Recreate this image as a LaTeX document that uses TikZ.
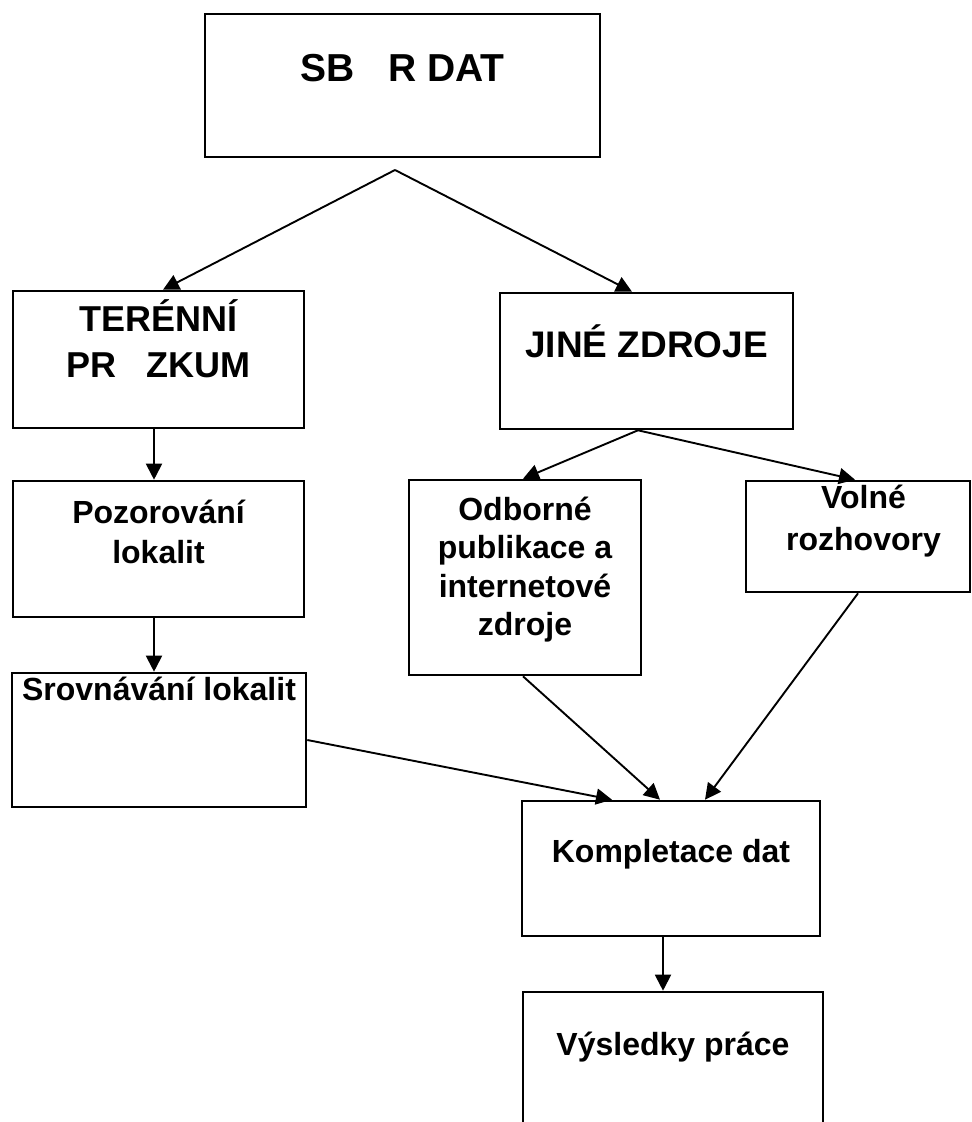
\documentclass[tikz,border=0pt]{standalone}
\usepackage{fontspec}
\setmainfont{Liberation Sans}
\usetikzlibrary{arrows.meta}

\newcommand{\boxtext}[4]{\parbox[c][#2][t]{#1}{\centering\rule{0pt}{#3}#4}}

\tikzset{
  box/.style={draw, line width=1.3pt, inner sep=0pt},
  arr/.style={-{Triangle[length=8pt,width=8pt]}, line width=0.95pt}
}

\begin{document}
\begin{tikzpicture}[x=0.5pt,y=-0.5pt]
\path[use as bounding box, clip] (0,0) rectangle (972,1122);
\node[box, font=\fontsize{19.5}{24}\selectfont\bfseries] (sber) at (402.5,85.5)
  {\boxtext{197.5pt}{71.5pt}{34pt}{SB\hspace{17pt}R DAT}};
\node[box, font=\fontsize{18}{23}\selectfont\bfseries] (teren) at (158.5,359.5)
  {\boxtext{145.5pt}{68.5pt}{20.35pt}{TERÉNNÍ\\PR\hspace{15pt}ZKUM}};
\node[box, font=\fontsize{18.5}{23}\selectfont\bfseries] (jine) at (646.5,361)
  {\boxtext{146.5pt}{68pt}{32pt}{JINÉ ZDROJE}};
\node[box, font=\fontsize{16}{20}\selectfont\bfseries] (pozor) at (158.5,549)
  {\boxtext{145.5pt}{68pt}{21pt}{Pozorování\\lokalit}};
\node[box, font=\fontsize{16}{20}\selectfont\bfseries] (srovn) at (159,740)
  {\boxtext{147pt}{67pt}{13.5pt}{Srovnávání lokalit}};
\node[box, font=\fontsize{16}{19.25}\selectfont\bfseries] (odbor) at (525,577.5)
  {\boxtext{116pt}{97.5pt}{20pt}{Odborné\\publikace a\\internetové\\zdroje}};
\node[box, font=\fontsize{16}{21}\selectfont\bfseries] (volne) at (858,536.5)
  {\boxtext{112pt}{55.5pt}{13.5pt}{\hspace*{5.5pt}Volné\\\hspace*{5.5pt}rozhovory}};
\node[box, font=\fontsize{16}{20}\selectfont\bfseries] (kompl) at (671,868.5)
  {\boxtext{149pt}{67.5pt}{30.5pt}{Kompletace dat}};
\node[box, font=\fontsize{16}{20}\selectfont\bfseries] (vysl) at (673,1059.5)
  {\boxtext{150pt}{67.5pt}{31.5pt}{Výsledky práce}};
\coordinate (split1) at (395,170);
\coordinate (split2) at ([xshift=-4.25pt]jine.south);
\draw[arr] (split1) -- ([xshift=2.25pt]teren.north);
\draw[arr] (split1) -- ([xshift=-7.25pt]jine.north);
\draw[arr] ([xshift=-2.25pt]teren.south) -- ([xshift=-2.25pt]pozor.north);
\draw[arr] ([xshift=-2.25pt]pozor.south) -- ([xshift=-2.5pt]srovn.north);
\draw[arr] (split2) -- ([xshift=-1pt]odbor.north);
\draw[arr] (split2) -- ([xshift=-1.5pt]volne.north);
\draw[arr] (srovn.east) -- ([xshift=-29.5pt]kompl.north);
\draw[arr] ([xshift=-1pt]odbor.south) -- ([xshift=-5.5pt]kompl.north);
\draw[arr] (volne.south) -- ([xshift=17pt]kompl.north);
\draw[arr] ([xshift=-4pt]kompl.south) -- ([xshift=-5pt]vysl.north);
\end{tikzpicture}
\end{document}
